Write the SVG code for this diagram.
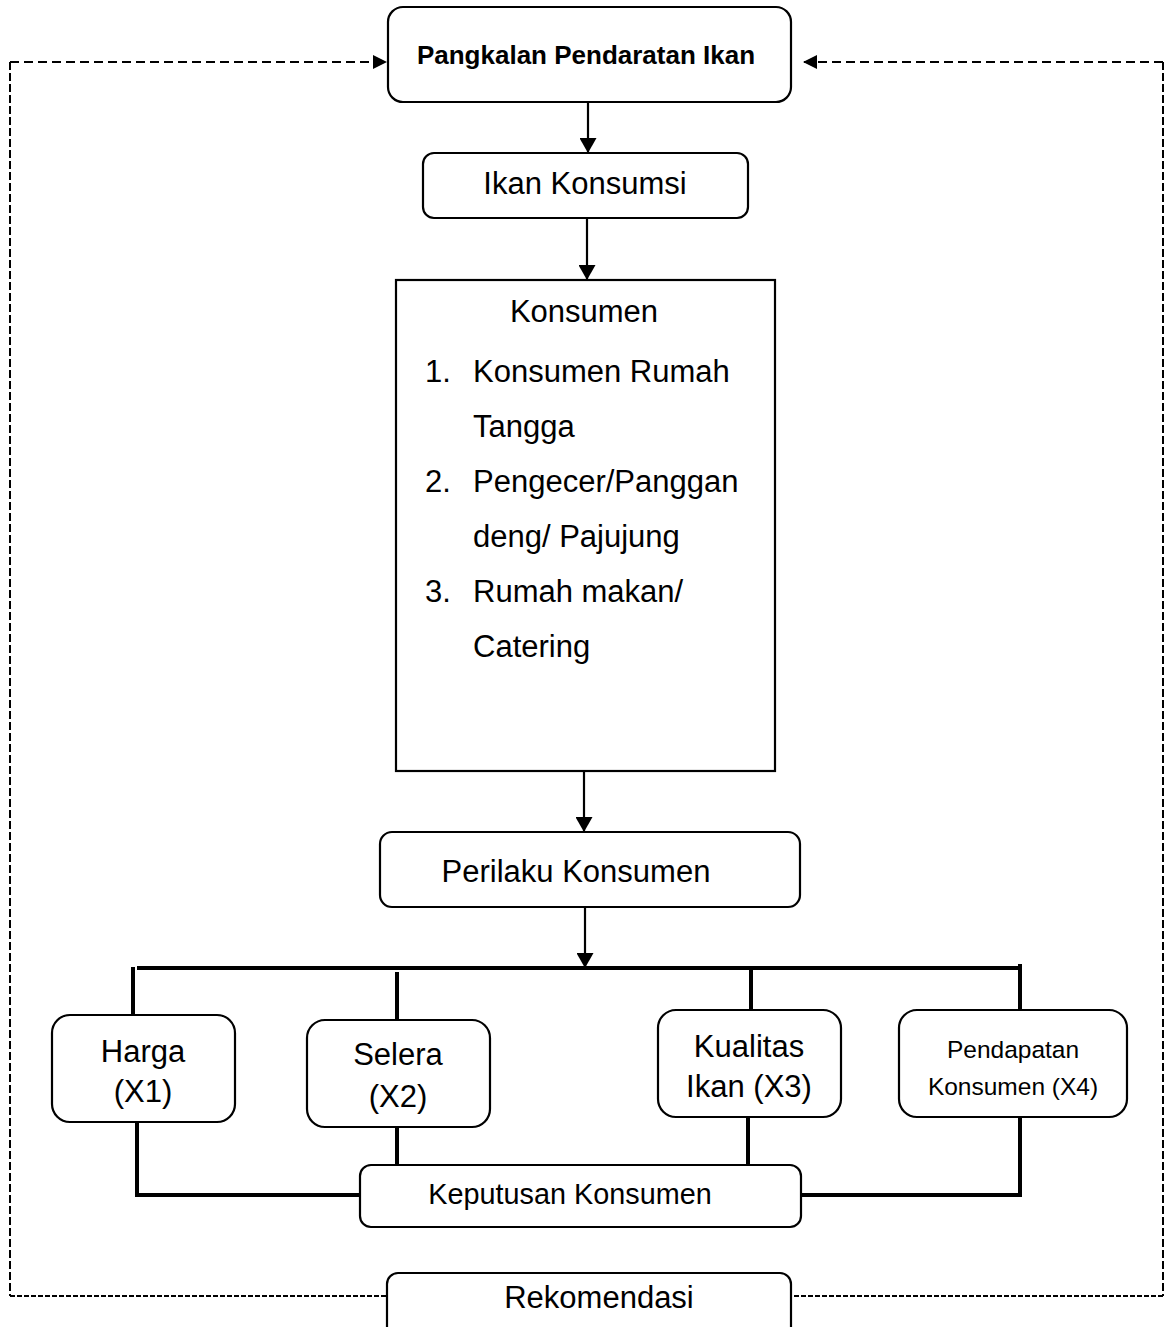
<svg xmlns="http://www.w3.org/2000/svg" width="1168" height="1327" viewBox="0 0 1168 1327">
<style>
.box{fill:#fff;stroke:#000;stroke-width:2.2}
.t{font-family:"Liberation Sans",Arial,sans-serif;fill:#000}
.c{text-anchor:middle}
.arr{fill:none;stroke:#000;stroke-width:2.2}
.thick{fill:none;stroke:#000;stroke-width:4}
.dash{fill:none;stroke:#000;stroke-width:2}
</style>
<defs>
<marker id="ah" viewBox="0 0 15 17" refX="15" refY="8.5" markerWidth="15" markerHeight="17" orient="auto" markerUnits="userSpaceOnUse">
<path d="M0,0 L15,8.5 L0,17 z" fill="#000"/>
</marker>
<marker id="ahs" viewBox="0 0 14 14" refX="14" refY="7" markerWidth="14" markerHeight="14" orient="auto" markerUnits="userSpaceOnUse">
<path d="M0,0 L14,7 L0,14 z" fill="#000"/>
</marker>
</defs>

<g id="connectors">
<line class="arr" x1="588" y1="102" x2="588" y2="153" marker-end="url(#ah)"/>
<line class="arr" x1="587" y1="218" x2="587" y2="280" marker-end="url(#ah)"/>
<line class="arr" x1="584" y1="771" x2="584" y2="832" marker-end="url(#ah)"/>
<line class="arr" x1="585" y1="907" x2="585" y2="968" marker-end="url(#ah)"/>
<line class="thick" x1="137" y1="968" x2="1020" y2="968"/>
<line class="thick" x1="133" y1="967" x2="133" y2="1014"/>
<line class="thick" x1="397" y1="972" x2="397" y2="1020"/>
<line class="thick" x1="751" y1="966" x2="751" y2="1010"/>
<line class="thick" x1="1020" y1="964" x2="1020" y2="1010"/>
<path class="thick" d="M137,1122 V1195 H360"/>
<line class="thick" x1="397" y1="1127" x2="397" y2="1168"/>
<line class="thick" x1="748" y1="1117" x2="748" y2="1168"/>
<path class="thick" d="M1020,1117 V1195 H801"/>
<path class="dash" d="M10,62 H387" stroke-width="2.8" stroke-dasharray="9 5" marker-end="url(#ahs)"/>
<path class="dash" d="M10,62 V1296" stroke-width="2.4" stroke-dasharray="8 3"/>
<path class="dash" d="M10,1296 H387" stroke-dasharray="5 2"/>
<path class="dash" d="M1163,62 H803" stroke-width="2.8" stroke-dasharray="9 5" marker-end="url(#ahs)"/>
<path class="dash" d="M1163,62 V1296" stroke-width="2.4" stroke-dasharray="8 3"/>
<path class="dash" d="M1163,1296 H791" stroke-dasharray="5 2"/>
</g>

<g id="pangkalan">
<rect class="box" x="388" y="7" width="403" height="95" rx="15"/>
<text class="t c" x="586" y="64" font-size="26" font-weight="bold">Pangkalan Pendaratan Ikan</text>
</g>

<g id="ikan-konsumsi">
<rect class="box" x="423" y="153" width="325" height="65" rx="11"/>
<text class="t c" x="585" y="194" font-size="31">Ikan Konsumsi</text>
</g>

<g id="konsumen">
<rect class="box" x="396" y="280" width="379" height="491" stroke-width="2.5"/>
<text class="t c" x="584" y="322" font-size="31">Konsumen</text>
<text class="t" x="425" y="382" font-size="31">1.</text>
<text class="t" x="473" y="382" font-size="31">Konsumen Rumah</text>
<text class="t" x="473" y="437" font-size="31">Tangga</text>
<text class="t" x="425" y="492" font-size="31">2.</text>
<text class="t" x="473" y="492" font-size="31">Pengecer/Panggan</text>
<text class="t" x="473" y="547" font-size="31">deng/ Pajujung</text>
<text class="t" x="425" y="602" font-size="31">3.</text>
<text class="t" x="473" y="602" font-size="31">Rumah makan/</text>
<text class="t" x="473" y="657" font-size="31">Catering</text>
</g>

<g id="perilaku">
<rect class="box" x="380" y="832" width="420" height="75" rx="12"/>
<text class="t c" x="576" y="882" font-size="31">Perilaku Konsumen</text>
</g>

<g id="harga">
<rect class="box" x="52" y="1015" width="183" height="107" rx="18"/>
<text class="t c" x="143" y="1062" font-size="31">Harga</text>
<text class="t c" x="143" y="1102" font-size="31">(X1)</text>
</g>

<g id="selera">
<rect class="box" x="307" y="1020" width="183" height="107" rx="18"/>
<text class="t c" x="398" y="1065" font-size="31">Selera</text>
<text class="t c" x="398" y="1107" font-size="31">(X2)</text>
</g>

<g id="kualitas">
<rect class="box" x="658" y="1010" width="183" height="107" rx="18"/>
<text class="t c" x="749" y="1057" font-size="31">Kualitas</text>
<text class="t c" x="749" y="1097" font-size="31">Ikan (X3)</text>
</g>

<g id="pendapatan">
<rect class="box" x="899" y="1010" width="228" height="107" rx="18"/>
<text class="t c" x="1013" y="1058" font-size="24.5">Pendapatan</text>
<text class="t c" x="1013" y="1095" font-size="24.5">Konsumen (X4)</text>
</g>

<g id="keputusan">
<rect class="box" x="360" y="1165" width="441" height="62" rx="11"/>
<text class="t c" x="570" y="1204" font-size="28.8">Keputusan Konsumen</text>
</g>

<g id="rekomendasi">
<rect class="box" x="387" y="1273" width="404" height="70" rx="11"/>
<text class="t c" x="599" y="1308" font-size="31">Rekomendasi</text>
</g>
</svg>
